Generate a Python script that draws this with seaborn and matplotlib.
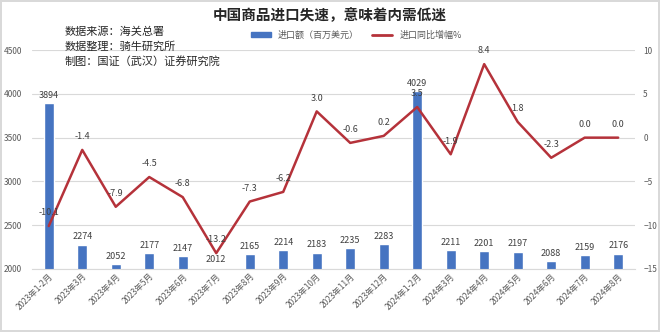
import matplotlib
matplotlib.use("Agg")
import matplotlib.pyplot as plt
import seaborn as sns
import numpy as np
import pandas as pd

categories = ["2023年1-2月", "2023年3月", "2023年4月", "2023年5月", "2023年6月", "2023年7月",
              "2023年8月", "2023年9月", "2023年10月", "2023年11月", "2023年12月",
              "2024年1-2月", "2024年3月", "2024年4月", "2024年5月", "2024年6月",
              "2024年7月", "2024年8月"]
imports = [3894, 2274, 2052, 2177, 2147, 2012, 2165, 2214, 2183, 2235, 2283,
           4029, 2211, 2201, 2197, 2088, 2159, 2176]
yoy = [-10.1, -1.4, -7.9, -4.5, -6.8, -13.2, -7.3, -6.2, 3.0, -0.6, 0.2,
       3.5, -1.9, 8.4, 1.8, -2.3, 0.0, 0.0]

sns.set_style("white")
plt.rcParams['font.family'] = ['Noto Sans CJK SC', 'DejaVu Sans']

df = pd.DataFrame({"cat": categories, "imp": imports, "yoy": yoy, "pos": np.arange(len(categories))})

bar_color = "#4674C1"
line_color = "#B5323A"
txt = "#404040"

fig = plt.figure(figsize=(6.6, 3.32), dpi=100)
fig.patch.set_edgecolor("#d9d9d9")
fig.patch.set_linewidth(1.5)
ax = fig.add_axes([0.0485, 0.19, 0.9135, 0.659])

sns.barplot(data=df, x="cat", y="imp", color=bar_color, width=0.3, ax=ax, saturation=1)
ax.set_ylim(2000, 4500)
ax.set_yticks([2000, 2500, 3000, 3500, 4000, 4500])
ax.set_xlim(-0.5, len(categories) - 0.5)
ax.set_xlabel("")
ax.set_ylabel("")
ax.grid(axis="y", color="#d9d9d9", linewidth=0.8)
ax.set_axisbelow(True)
for s in ["top", "right", "left"]:
    ax.spines[s].set_visible(False)
ax.spines["bottom"].set_color("#d9d9d9")
ax.tick_params(axis="y", labelsize=6, colors="#595959", length=0, pad=7)
ax.tick_params(axis="x", labelsize=6, colors="#595959", length=0, pad=2)
plt.setp(ax.get_xticklabels(), rotation=45, ha="right", rotation_mode="anchor")

for i, v in enumerate(imports):
    ax.text(i, v + 40, f"{v}", ha="center", va="bottom", fontsize=6.5, color=txt)

ax2 = ax.twinx()
sns.lineplot(data=df, x="pos", y="yoy", color=line_color, linewidth=1.8, ax=ax2)
ax2.set_ylim(-15, 10)
ax2.set_yticks([-15, -10, -5, 0, 5, 10])
ax2.set_xlim(-0.5, len(categories) - 0.5)
ax2.set_xlabel("")
ax2.set_ylabel("")
for s in ["top", "right", "left", "bottom"]:
    ax2.spines[s].set_visible(False)
ax2.tick_params(axis="y", labelsize=6, colors="#595959", length=0, pad=6)
for i, v in enumerate(yoy):
    ax2.text(i, v + 1.0, f"{v:.1f}", ha="center", va="bottom", fontsize=6.5, color=txt)

fig.text(0.5, 0.955, "中国商品进口失速，意味着内需低迷", ha="center", va="center",
         fontsize=10.5, fontweight="bold", color="#262626")
fig.text(0.098, 0.905, "数据来源：海关总署", ha="left", va="center", fontsize=8, color="#262626")
fig.text(0.098, 0.86, "数据整理：骑牛研究所", ha="left", va="center", fontsize=8, color="#262626")
fig.text(0.098, 0.815, "制图：国证（武汉）证券研究院", ha="left", va="center", fontsize=8, color="#262626")

from matplotlib.patches import Patch
from matplotlib.lines import Line2D
handles = [Patch(color=bar_color), Line2D([0], [0], color=line_color, linewidth=2)]
fig.legend(handles, ["进口额（百万美元）", "进口同比增幅%"], loc="center", bbox_to_anchor=(0.54, 0.895),
           ncol=2, frameon=False, fontsize=6.5, handlelength=2.2, handleheight=0.4,
           columnspacing=1.5, labelcolor="#595959")

fig.savefig("out.png", dpi=100)
